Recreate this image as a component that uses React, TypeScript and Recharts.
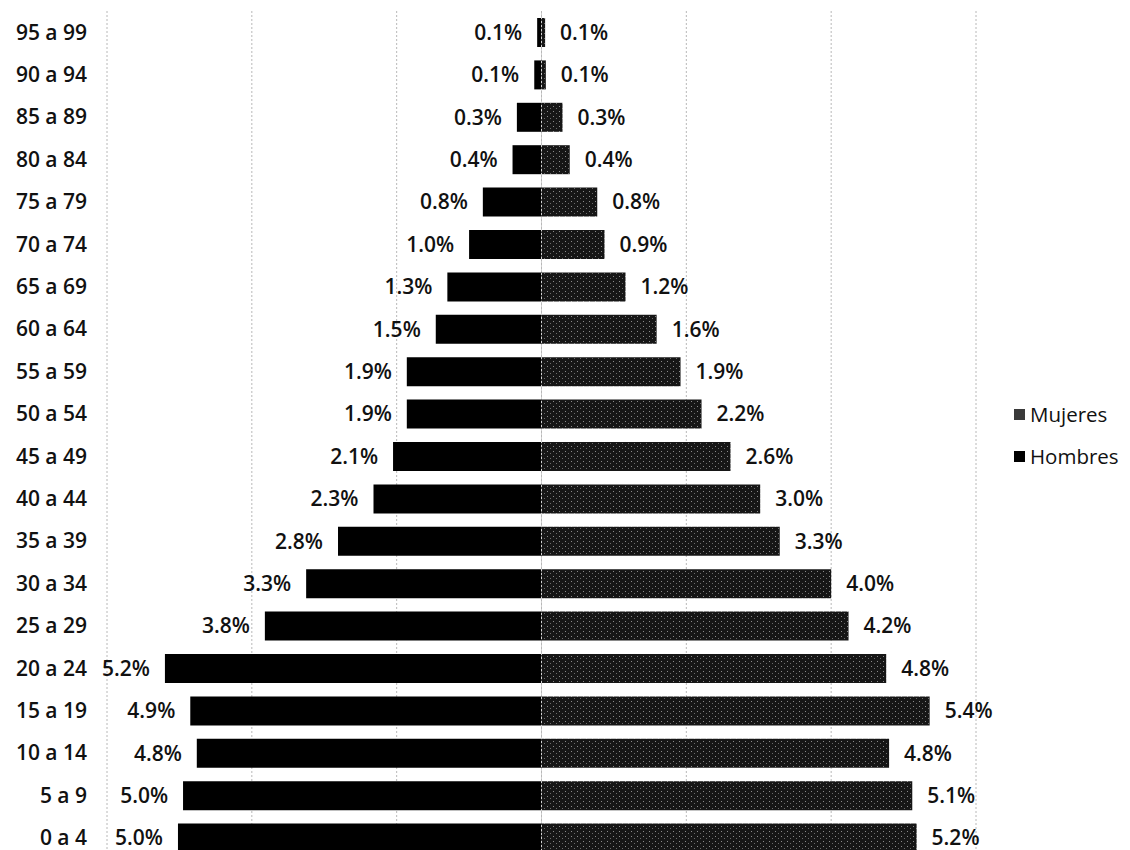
import React from 'react';
import { BarChart, Bar, XAxis, YAxis, CartesianGrid, Legend, LabelList, ReferenceLine } from 'recharts';

// age groups, youngest first (drawn from the bottom up)
const ageGroups = [
  '0 a 4', '5 a 9', '10 a 14', '15 a 19', '20 a 24', '25 a 29', '30 a 34',
  '35 a 39', '40 a 44', '45 a 49', '50 a 54', '55 a 59', '60 a 64', '65 a 69',
  '70 a 74', '75 a 79', '80 a 84', '85 a 89', '90 a 94', '95 a 99',
];

// percentage of total population
const hombres = [
  5.02, 4.95, 4.76, 4.85, 5.2, 3.82, 3.25, 2.81, 2.32, 2.05,
  1.86, 1.86, 1.46, 1.3, 1.0, 0.81, 0.4, 0.34, 0.1, 0.06,
];
const mujeres = [
  5.18, 5.12, 4.8, 5.36, 4.76, 4.24, 4.0, 3.29, 3.02, 2.61,
  2.21, 1.92, 1.59, 1.16, 0.87, 0.77, 0.39, 0.29, 0.06, 0.05,
];

const gridTicks = [-6, -4, -2, 0, 2, 4, 6];

const FONT = '"Open Sans", "Noto Sans", sans-serif';
const HOMBRES_COLOR = '#000000';
const MUJERES_FILL = 'url(#mujeresFill)';

const data = ageGroups.map((group, i) => ({
  group,
  hombres: -hombres[i],
  mujeres: mujeres[i],
}));

const fmt = (v: number) => `${(Math.round(Math.abs(v) * 10) / 10).toFixed(1)}%`;

const makeLabel = (side: 'left' | 'right') => (props: any) => {
  const { x, y, width, height, value } = props;
  const left = Math.min(x, x + width);
  const right = Math.max(x, x + width);
  const tx = side === 'left' ? left - 15 : right + 15;
  return (
    <text
      x={tx}
      y={y + height / 2}
      dy="0.35em"
      textAnchor={side === 'left' ? 'end' : 'start'}
      fill="#111"
      fontSize={21}
      fontWeight={600}
      fontFamily={FONT}
    >
      {fmt(value)}
    </text>
  );
};

const legendItems = [
  { name: 'Mujeres', fill: '#3a3a3a' },
  { name: 'Hombres', fill: HOMBRES_COLOR },
];

const renderLegend = () => (
  <div style={{ paddingLeft: 38, fontFamily: FONT, fontSize: 20.5, color: '#111' }}>
    {legendItems.map((item) => (
      <div key={item.name} style={{ height: 42, display: 'flex', alignItems: 'center' }}>
        <span
          style={{
            width: 11,
            height: 11,
            flexShrink: 0,
            background: item.fill,
            marginRight: 5,
            display: 'inline-block',
          }}
        />
        {item.name}
      </div>
    ))}
  </div>
);

export default function App() {
  return (
    <div>
      <style>{'body{margin:0;overflow:hidden;background:#fff}'}</style>
      <BarChart
        width={1130}
        height={870}
        data={data}
        layout="vertical"
        stackOffset="sign"
        barSize={29}
        margin={{ top: 11, right: 14, bottom: 11, left: 0 }}
      >
        <defs>
          <pattern id="mujeresFill" width="6" height="5" patternUnits="userSpaceOnUse">
            <rect width="6" height="5" fill="#161616" />
            <rect x="1" y="1" width="1" height="1" fill="#8a8a8a" />
            <rect x="4" y="3" width="1" height="1" fill="#6a6a6a" />
          </pattern>
        </defs>
        <CartesianGrid horizontal={false} stroke="#b8b8b8" strokeDasharray="2 2" />
        <XAxis
          type="number"
          domain={[-6, 6]}
          ticks={gridTicks}
          interval={0}
          height={0}
          tick={() => <g />}
          axisLine={false}
          tickLine={false}
        />
        <YAxis
          type="category"
          dataKey="group"
          reversed
          width={107}
          axisLine={false}
          tickLine={false}
          tickSize={0}
          tickMargin={20}
          interval={0}
          tick={{ fill: '#111', fontSize: 21, fontWeight: 600, fontFamily: FONT }}
        />
        <Legend
          layout="vertical"
          align="right"
          verticalAlign="middle"
          wrapperStyle={{ width: 140 }}
          content={renderLegend}
        />
        <Bar dataKey="hombres" name="Hombres" stackId="a" fill={HOMBRES_COLOR} isAnimationActive={false}>
          <LabelList dataKey="hombres" content={makeLabel('left')} />
        </Bar>
        <Bar dataKey="mujeres" name="Mujeres" stackId="a" fill={MUJERES_FILL} isAnimationActive={false}>
          <LabelList dataKey="mujeres" content={makeLabel('right')} />
        </Bar>
        <ReferenceLine x={0} stroke="#d0d0d0" strokeDasharray="2 2" />
      </BarChart>
    </div>
  );
}
